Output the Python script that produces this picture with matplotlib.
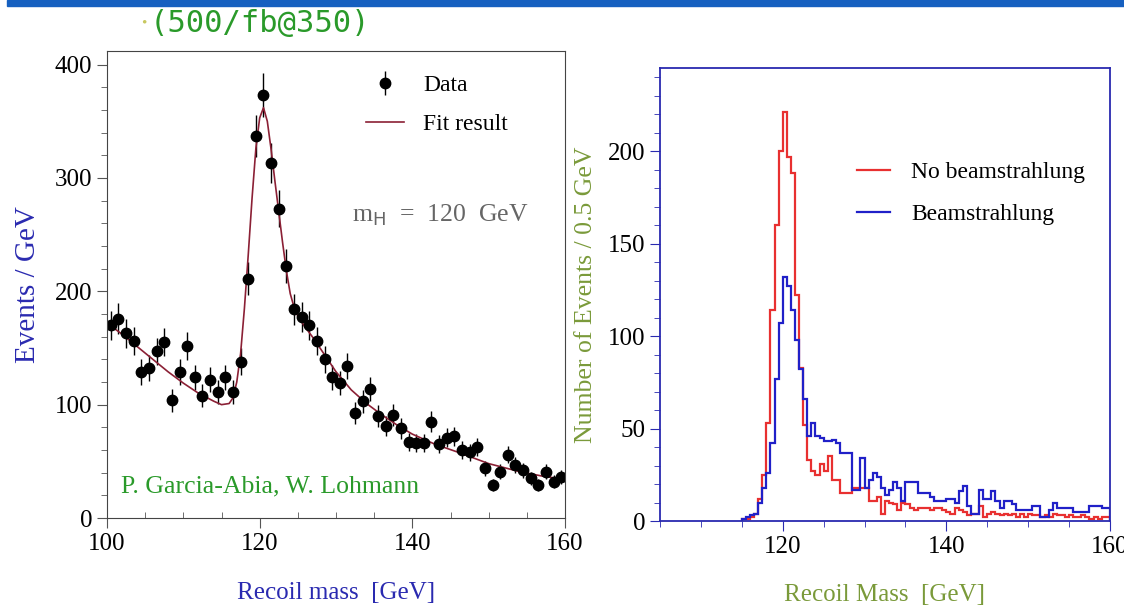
import numpy as np
import matplotlib.pyplot as plt
import matplotlib.ticker as ticker
from matplotlib.patches import Rectangle

# left panel: data points (1 GeV bins) and fit curve
mass = np.arange(100.5, 160.0, 1.0)
events = [170, 176, 163, 156, 129, 132, 147, 155, 104, 129,
          152, 124, 108, 122, 111, 124, 111, 138, 211, 337,
          373, 313, 273, 222, 184, 177, 170, 156, 140, 124,
          119, 134, 93, 103, 114, 90, 81, 91, 79, 67,
          66, 66, 85, 65, 71, 72, 60, 58, 63, 44,
          29, 41, 56, 47, 42, 35, 29, 41, 32, 36]
fit_x = [100, 102, 104, 106, 108, 110, 112, 114, 115, 116, 116.5, 117, 117.5,
         118, 118.5, 119, 119.5, 120, 120.5, 121, 121.5, 122, 122.5, 123,
         123.5, 124, 124.5, 125, 126, 127, 128, 130, 132, 134, 136, 138, 140,
         143, 146, 150, 154, 157, 160]
fit_y = [172, 162, 151, 140, 129, 119, 110, 103, 100, 101, 106, 120, 145,
         185, 232, 282, 326, 353, 362, 350, 325, 297, 270, 243,
         218, 198, 186, 178, 168, 159, 149, 129, 113, 101, 91, 82, 74,
         65, 58, 48, 41, 37, 34]

# right panel: 0.5 GeV histograms
edges = np.arange(115.0, 160.01, 0.5)
no_beam = [1, 1, 2, 4, 12, 25, 53, 114, 160, 200,
           221, 197, 188, 122, 83, 52, 33, 27, 25, 31,
           27, 35, 22, 22, 15, 15, 15, 18, 18, 18,
           18, 11, 11, 13, 4, 11, 10, 9, 6, 10,
           9, 7, 6, 7, 7, 7, 6, 7, 7, 6,
           5, 4, 7, 6, 5, 3, 4, 4, 8, 2,
           4, 5, 4, 3, 4, 3, 4, 2, 4, 2,
           4, 3, 3, 2, 3, 2, 4, 3, 3, 2,
           3, 2, 2, 3, 2, 1, 2, 1, 2, 2]
beam = [1, 2, 3, 4, 10, 18, 26, 42, 77, 107,
        132, 127, 114, 98, 82, 66, 46, 53, 46, 45,
        43, 43, 44, 42, 37, 37, 37, 17, 17, 34,
        18, 22, 26, 24, 18, 14, 17, 21, 18, 11,
        21, 21, 21, 15, 15, 15, 13, 11, 11, 11,
        12, 12, 10, 16, 19, 8, 4, 4, 17, 12,
        12, 16, 11, 7, 11, 11, 9, 6, 6, 6,
        6, 8, 8, 2, 2, 6, 10, 7, 7, 7,
        7, 5, 5, 5, 5, 8, 8, 8, 7, 7]

serif = "Liberation Serif"
plt.rcParams['font.family'] = serif

fig = plt.figure(figsize=(11.24, 6.1), dpi=100)
fig.patches.append(Rectangle((0.006, 0.99), 0.994, 0.01, transform=fig.transFigure,
                             color="#1660c0", zorder=0))
fig.text(0.126, 0.962, "\u2022", color="#c8c860", fontsize=11, va="center")
fig.text(0.133, 0.962, "(500/fb@350)", family="DejaVu Sans Mono", color="#2a9a2a",
         fontsize=22, va="center")

# ---- left panel
ax1 = fig.add_axes([0.0952, 0.1508, 0.4075, 0.7656])
err = np.sqrt(events)
data = ax1.errorbar(mass, events, yerr=err, fmt="o", color="black", ms=7.5,
                    elinewidth=1, capsize=0)
fit, = ax1.plot(fit_x, fit_y, color="#8b2035", lw=1.2)
ax1.set_xlim(100, 160)
ax1.set_ylim(0, 412)
ax1.xaxis.set_major_locator(ticker.MultipleLocator(20))
ax1.xaxis.set_minor_locator(ticker.MultipleLocator(5))
ax1.yaxis.set_major_locator(ticker.MultipleLocator(100))
ax1.yaxis.set_minor_locator(ticker.MultipleLocator(20))
ax1.tick_params(axis="both", which="major", direction="out", length=7,
                labelsize=18, color="#555555")
ax1.tick_params(axis="x", which="minor", direction="in", length=4, color="#555555")
ax1.tick_params(axis="y", which="minor", direction="out", length=4, color="#555555")
for s in ax1.spines.values():
    s.set_color("#444444")
ax1.set_xlabel("Recoil mass  [GeV]", color="#2a2ab0", fontsize=18, labelpad=20)
ax1.set_ylabel("Events / GeV", color="#2a2ab0", fontsize=21, labelpad=10)
ax1.legend([data, fit], ["Data", "Fit result"], loc="upper left",
           bbox_to_anchor=(0.52, 0.995), frameon=False, fontsize=17,
           handlelength=1.6, handletextpad=0.8, labelspacing=0.75)
ax1.text(0.535, 0.649, r"m$_{\rm H}$  =  120  GeV", transform=ax1.transAxes,
         color="#666666", fontsize=18.5, va="center")
ax1.text(0.03, 0.055, "P. Garcia-Abia, W. Lohmann", transform=ax1.transAxes,
         color="#2a9a2a", fontsize=18.5)

# ---- right panel
ax2 = fig.add_axes([0.5872, 0.1459, 0.4003, 0.7426])
ax2.stairs(no_beam, edges, color="#e83030", lw=1.6, label="No beamstrahlung")
ax2.stairs(beam, edges, color="#2020c8", lw=1.6, label="Beamstrahlung")
ax2.set_xlim(105, 160)
ax2.set_ylim(0, 245)
ax2.xaxis.set_major_locator(ticker.MultipleLocator(20))
ax2.xaxis.set_minor_locator(ticker.MultipleLocator(5))
ax2.yaxis.set_major_locator(ticker.MultipleLocator(50))
ax2.yaxis.set_minor_locator(ticker.MultipleLocator(10))
ax2.tick_params(axis="both", which="major", direction="out", length=7,
                labelsize=18, color="#2a2ab0")
ax2.tick_params(axis="both", which="minor", direction="out", length=4, color="#2a2ab0")
for s in ax2.spines.values():
    s.set_color("#2a2ab0")
    s.set_linewidth(1.3)
ax2.set_xlabel("Recoil Mass  [GeV]", color="#7a9a3a", fontsize=18, labelpad=19)
ax2.set_ylabel("Number of Events / 0.5 GeV", color="#7a9a3a", fontsize=18.5, labelpad=8)
ax2.legend(loc="upper left", bbox_to_anchor=(0.39, 0.84), frameon=False, fontsize=17,
           handlelength=1.4, handletextpad=0.9, labelspacing=0.85)

fig.savefig("out.png", dpi=100)
